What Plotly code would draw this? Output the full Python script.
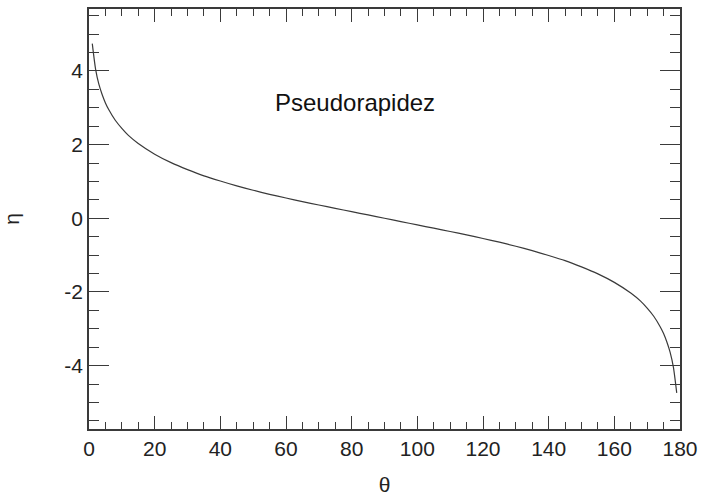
import plotly.graph_objects as go

# polar angle theta (degrees) and pseudorapidity eta
theta = [1, 2, 3, 4, 5, 6, 8, 10, 12, 15, 20, 25, 30, 35, 40, 45, 50, 55, 60,
         65, 70, 75, 80, 85, 90, 95, 100, 105, 110, 115, 120, 125, 130, 135,
         140, 145, 150, 155, 160, 165, 168, 170, 172, 174, 175, 176, 177, 178, 179]
eta = [4.74, 4.05, 3.64, 3.36, 3.13, 2.95, 2.66, 2.44, 2.25, 2.03, 1.74, 1.51,
       1.32, 1.15, 1.01, 0.88, 0.76, 0.65, 0.55, 0.45, 0.36, 0.27, 0.18, 0.09,
       0.0, -0.09, -0.18, -0.27, -0.36, -0.45, -0.55, -0.65, -0.76, -0.88,
       -1.01, -1.15, -1.32, -1.51, -1.74, -2.03, -2.25, -2.44, -2.66, -2.95,
       -3.13, -3.36, -3.64, -4.05, -4.74]

x_ticks = [0, 20, 40, 60, 80, 100, 120, 140, 160, 180]
y_ticks = [-4, -2, 0, 2, 4]

axis_color = "#3a3a3a"
font_family = "Liberation Sans, Arial, sans-serif"

fig = go.Figure()
fig.add_trace(go.Scatter(
    x=theta, y=eta, mode="lines",
    line=dict(color="#3a3a3a", width=1.2, shape="spline", smoothing=0.6),
    showlegend=False,
))

fig.add_annotation(
    x=81, y=3.15, xref="x", yref="y", text="Pseudorapidez",
    showarrow=False, font=dict(family=font_family, size=24, color="#111111"),
)

fig.update_xaxes(
    range=[0, 180], tickvals=x_ticks, ticktext=[str(v) for v in x_ticks],
    ticks="inside", ticklen=13, tickwidth=1.3, tickcolor=axis_color,
    minor=dict(dtick=5, ticks="inside", ticklen=7, tickwidth=1.1, tickcolor=axis_color),
    showline=True, linecolor=axis_color, linewidth=1.5, mirror="allticks",
    showgrid=False, zeroline=False,
    tickfont=dict(family=font_family, size=21, color="#222222"),
    title=dict(text="θ", font=dict(family=font_family, size=21, color="#222222"), standoff=18),
)
fig.update_yaxes(
    range=[-5.72, 5.68], tickvals=y_ticks, ticktext=[str(v) for v in y_ticks],
    ticks="inside", ticklen=20, tickwidth=1.3, tickcolor=axis_color,
    minor=dict(dtick=0.5, ticks="inside", ticklen=10, tickwidth=1.1, tickcolor=axis_color),
    showline=True, linecolor=axis_color, linewidth=1.5, mirror="allticks",
    showgrid=False, zeroline=False,
    tickfont=dict(family=font_family, size=21, color="#222222"),
    title=dict(text="η", font=dict(family=font_family, size=21, color="#222222"), standoff=40),
)

fig.update_layout(
    width=705, height=500,
    margin=dict(l=89, r=22, t=7, b=69),
    paper_bgcolor="white", plot_bgcolor="white",
)

fig.write_html("out.html")
